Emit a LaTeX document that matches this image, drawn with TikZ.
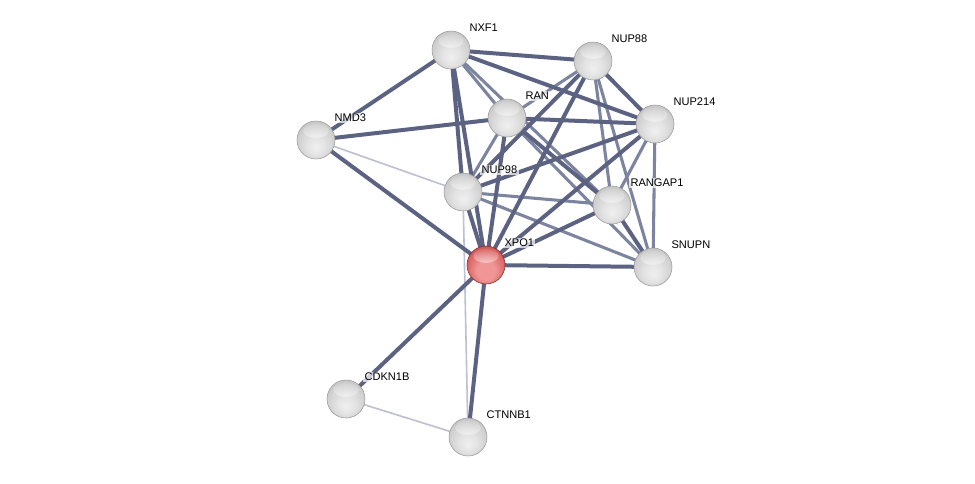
\documentclass[tikz,border=0pt]{standalone}
\usepackage{fontspec}
\setmainfont{Liberation Sans}
\usetikzlibrary{fadings}
\definecolor{rA}{RGB}{240,150,150}
\definecolor{rB}{RGB}{218,100,100}
\definecolor{rC}{RGB}{192,72,72}
\definecolor{rD}{RGB}{140,40,40}
\pgfdeclareradialshading{greyball}{\pgfpoint{0bp}{-10bp}}{color(0bp)=(gray!12); color(12bp)=(gray!22); color(25bp)=(gray!38); color(33bp)=(gray!50); color(40bp)=(gray!62); color(46bp)=(gray!80); color(50bp)=(gray!80)}
\pgfdeclareradialshading{redball}{\pgfpoint{0bp}{-10bp}}{color(0bp)=(rA); color(12bp)=(rA); color(25bp)=(rB); color(33bp)=(rC); color(40bp)=(rC); color(46bp)=(rD); color(50bp)=(rD)}
\begin{document}
\begin{tikzpicture}[x=0.75pt,y=-0.75pt,
  hl/.style={path picture={\fill[white,path fading=north] ([yshift=6.8pt]path picture bounding box.center) ellipse (9.5pt and 5.2pt);}},
  prot/.style={circle,minimum size=28.5pt,inner sep=0pt,shading=greyball,draw=gray!80,line width=0.4pt,hl},
  seed/.style={circle,minimum size=28.5pt,inner sep=0pt,shading=redball,draw={rgb,255:red,130;green,40;blue,40},line width=0.4pt,hl},
  lab/.style={anchor=west,font=\fontsize{8.3}{10}\selectfont,inner sep=1pt,fill=white,fill opacity=0.7,text opacity=1},
  strong/.style={draw={rgb,255:red,92;green,99;blue,130},line width=3pt},
  mid/.style={draw={rgb,255:red,125;green,132;blue,160},line width=2.3pt},
  weak/.style={draw={rgb,255:red,188;green,192;blue,208},line width=1.2pt}]
\useasboundingbox (0,0) rectangle (975,483);
\fill[white] (0,0) rectangle (975,483);
% node coordinates
\coordinate (cNXF1) at (451,50);
\coordinate (cNUP88) at (593,61);
\coordinate (cNMD3) at (316,140);
\coordinate (cRAN) at (507,118);
\coordinate (cNUP214) at (655,124);
\coordinate (cNUP98) at (463,192);
\coordinate (cRANGAP1) at (612,205);
\coordinate (cXPO1) at (486,265);
\coordinate (cSNUPN) at (653,267);
\coordinate (cCDKN1B) at (346,399);
\coordinate (cCTNNB1) at (468,437);
% edges
\draw[weak] (cNMD3) -- (cNUP98);
\draw[weak] (cNUP98) -- (cCTNNB1);
\draw[weak] (cCDKN1B) -- (cCTNNB1);
\draw[mid] (cNXF1) -- (cRAN);
\draw[mid] (cNXF1) -- (cRANGAP1);
\draw[mid] (cNUP88) -- (cRAN);
\draw[mid] (cNUP88) -- (cRANGAP1);
\draw[mid] (cNUP88) -- (cSNUPN);
\draw[mid] (cRAN) -- (cNUP98);
\draw[mid] (cRAN) -- (cSNUPN);
\draw[mid] (cNUP214) -- (cRANGAP1);
\draw[mid] (cNUP214) -- (cSNUPN);
\draw[mid] (cNUP98) -- (cRANGAP1);
\draw[mid] (cNUP98) -- (cSNUPN);
\draw[strong] (cNXF1) -- (cNMD3);
\draw[strong] (cNXF1) -- (cNUP88);
\draw[strong] (cNXF1) -- (cNUP214);
\draw[strong] (cNXF1) -- (cNUP98);
\draw[strong] (cNXF1) -- (cXPO1);
\draw[strong] (cNUP88) -- (cNUP214);
\draw[strong] (cNUP88) -- (cNUP98);
\draw[strong] (cNUP88) -- (cXPO1);
\draw[strong] (cNMD3) -- (cRAN);
\draw[strong] (cNMD3) -- (cXPO1);
\draw[strong] (cRAN) -- (cNUP214);
\draw[strong] (cRAN) -- (cXPO1);
\draw[strong] (cRAN) -- (cRANGAP1);
\draw[strong] (cNUP214) -- (cNUP98);
\draw[strong] (cNUP214) -- (cXPO1);
\draw[strong] (cNUP98) -- (cXPO1);
\draw[strong] (cRANGAP1) -- (cXPO1);
\draw[strong] (cRANGAP1) -- (cSNUPN);
\draw[strong] (cXPO1) -- (cSNUPN);
\draw[strong] (cXPO1) -- (cCDKN1B);
\draw[strong] (cXPO1) -- (cCTNNB1);
% nodes
\foreach \n in {NXF1,NUP88,NMD3,RAN,NUP214,NUP98,RANGAP1,SNUPN,CDKN1B,CTNNB1}{
  \node[prot] (\n) at (c\n) {};
  \node[lab] (l\n) at ([shift={(17,-22)}]c\n) {\n};
}
\node[seed] (XPO1) at (cXPO1) {};
\node[lab] (lXPO1) at ([shift={(17,-22)}]cXPO1) {XPO1};
\end{tikzpicture}
\end{document}
